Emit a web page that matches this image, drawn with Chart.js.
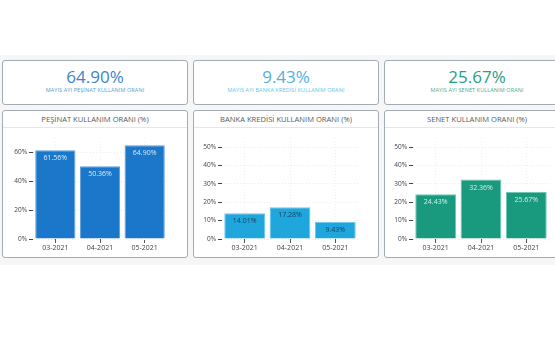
<!DOCTYPE html>
<html><head><meta charset="utf-8">
<script src="https://cdn.jsdelivr.net/npm/chart.js@4/dist/chart.umd.min.js"></script>
<style>
html,body{margin:0;padding:0;width:555px;height:355px;overflow:hidden;background:#fff;font-family:"Open Sans",sans-serif;}
#wrap{position:absolute;left:0;top:55px;width:555px;height:210px;background:#f6f6f6;}
.card{position:absolute;box-sizing:border-box;background:#fff;border:1px solid #a3abb4;border-radius:3px;}
.top{top:60px;height:45px;width:186px;text-align:center;}
.big{position:absolute;left:0;right:0;top:5px;font-size:17px;line-height:22px;}
.sub{position:absolute;left:0;right:0;top:25px;font-size:5.5px;line-height:8px;letter-spacing:0.1px;}
.bot{top:110px;height:148px;width:186px;}
.hdr{position:absolute;left:0;right:0;top:0;height:16px;border-bottom:1px solid #e4e7ea;text-align:center;font-size:7.6px;line-height:16px;color:#5a5a5a;}
.body{position:absolute;left:0;top:17px;width:184px;height:130px;}
</style></head><body>
<div id="wrap"></div>
<div class="card top" style="left:2px"><div class="big" style="color:#3b86c9">64.90%</div><div class="sub" style="color:#5b9bd3">MAYIS AYI PEŞİNAT KULLANIM ORANI</div></div>
<div class="card top" style="left:193px"><div class="big" style="color:#4fb2df">9.43%</div><div class="sub" style="color:#6dbfe4">MAYIS AYI BANKA KREDİSİ KULLANIM ORANI</div></div>
<div class="card top" style="left:384px"><div class="big" style="color:#2b9d82">25.67%</div><div class="sub" style="color:#4aab93">MAYIS AYI SENET KULLANIM ORANI</div></div>
<div class="card bot" style="left:2px"><div class="hdr">PEŞİNAT KULLANIM ORANI (%)</div><div class="body"><canvas id="c1"></canvas></div></div>
<div class="card bot" style="left:193px"><div class="hdr">BANKA KREDİSİ KULLANIM ORANI (%)</div><div class="body"><canvas id="c2"></canvas></div></div>
<div class="card bot" style="left:384px"><div class="hdr">SENET KULLANIM ORANI (%)</div><div class="body"><canvas id="c3"></canvas></div></div>
<script>
const categories = ["03-2021", "04-2021", "05-2021"];
const pesinatValues = [61.56, 50.36, 64.90];
const bankaValues = [14.01, 17.28, 9.43];
const senetValues = [24.43, 32.36, 25.67];
const pesinatTicks = [0, 20, 40, 60];
const otherTicks = [0, 10, 20, 30, 40, 50];

const labelPlugin = {
  id: 'barLabels',
  afterDatasetsDraw(chart, args, opts) {
    const ctx = chart.ctx;
    const meta = chart.getDatasetMeta(0);
    ctx.save();
    ctx.font = '7px "Open Sans", sans-serif';
    ctx.fillStyle = opts.color;
    ctx.textAlign = 'center';
    ctx.textBaseline = 'middle';
    meta.data.forEach((bar, i) => {
      const v = chart.data.datasets[0].data[i];
      ctx.fillText(v.toFixed(2) + '%', bar.x, bar.y + 8);
    });
    ctx.restore();
  }
};

function makeChart(id, values, tickList, max, step, fill, border, lblColor, yWidth) {
  new Chart(document.getElementById(id), {
    type: 'bar',
    data: { labels: categories, datasets: [{ data: values, backgroundColor: fill, borderColor: border, borderWidth: 1, barPercentage: 0.9, categoryPercentage: 1 }] },
    plugins: [labelPlugin],
    options: {
      responsive: true, maintainAspectRatio: false, animation: false,
      layout: { padding: { top: 10, right: 20, left: 0, bottom: 0 } },
      plugins: { legend: { display: false }, tooltip: { enabled: false }, barLabels: { color: lblColor } },
      scales: {
        x: {
          grid: { offset: false, color: '#efefef', tickColor: '#555', tickLength: 4, lineWidth: 1 },
          border: { display: false, dash: [1, 2] },
          ticks: { color: '#444', font: { size: 7, family: '"Open Sans", sans-serif' }, padding: 1 },
          afterFit(s) { s.height = 19; }
        },
        y: {
          min: 0, max: max,
          grid: { color: '#ececec', tickColor: '#444', tickLength: 4 },
          border: { display: false, dash: [1, 2] },
          ticks: { stepSize: step, color: '#444', font: { size: 6.5, family: '"Open Sans", sans-serif' }, padding: 2, callback: v => v + '%' },
          afterBuildTicks(s) { s.ticks = tickList.map(v => ({ value: v })); },
          afterFit(s) { s.width = yWidth; }
        }
      }
    }
  });
}
makeChart('c1', pesinatValues, pesinatTicks, 70, 20, '#1b77c9', '#5aa0dc', '#dce9f6', 30);
makeChart('c2', bankaValues, otherTicks, 55, 10, '#1ea6dd', '#6cc7ea', '#1d3c5a', 28);
makeChart('c3', senetValues, otherTicks, 55, 10, '#19997d', '#6cc9b2', '#d6efe8', 28);
</script>
</body></html>
